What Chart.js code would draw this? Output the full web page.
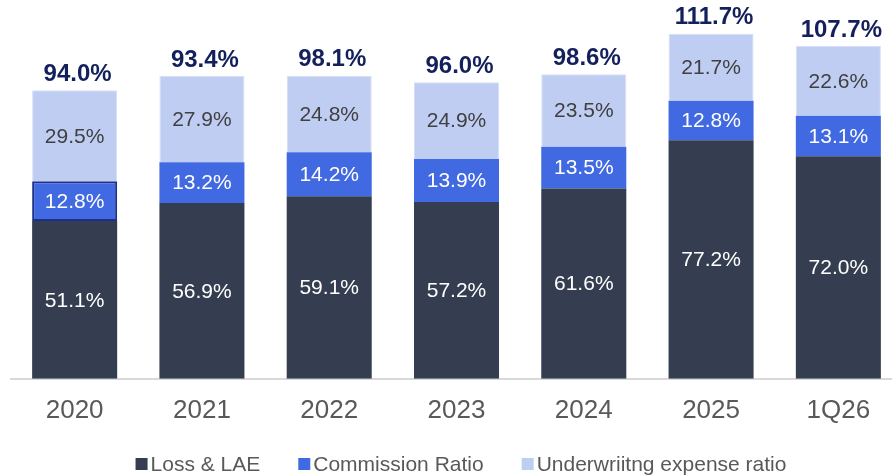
<!DOCTYPE html>
<html>
<head>
<meta charset="utf-8">
<script src="https://cdn.jsdelivr.net/npm/chart.js@4"></script>
<style>
  html, body { margin: 0; padding: 0; overflow: hidden; background: #ffffff; }
  #wrap { width: 902px; height: 475px; position: relative; }
</style>
</head>
<body>
<div id="wrap"><canvas id="c"></canvas></div>
<script>
const categories = ['2020', '2021', '2022', '2023', '2024', '2025', '1Q26'];
const lossLAE = [51.1, 56.9, 59.1, 57.2, 61.6, 77.2, 72.0];
const commissionRatio = [12.8, 13.2, 14.2, 13.9, 13.5, 12.8, 13.1];
const underwritingExpense = [29.5, 27.9, 24.8, 24.9, 23.5, 21.7, 22.6];
const totalLabels = ['94.0%', '93.4%', '98.1%', '96.0%', '98.6%', '111.7%', '107.7%'];
const seriesNames = ['Loss & LAE', 'Commission Ratio', 'Underwriitng expense ratio'];

const FONT = '"Liberation Sans", Arial, sans-serif';
const colors = ['#343e50', '#4169e1', '#bfcdf3'];
const labelColors = ['#ffffff', '#ffffff', '#404040'];

const segmentLabels = {
  id: 'segmentLabels',
  afterDatasetsDraw(chart) {
    const ctx = chart.ctx;
    ctx.save();
    ctx.font = '21px ' + FONT;
    ctx.textAlign = 'center';
    ctx.textBaseline = 'middle';
    chart.data.datasets.forEach((ds, i) => {
      const meta = chart.getDatasetMeta(i);
      meta.data.forEach((bar, j) => {
        const v = ds.data[j];
        ctx.fillStyle = labelColors[i];
        ctx.fillText(v.toFixed(1) + '%', bar.x, (bar.y + bar.base) / 2 + 1);
      });
    });
    const last = chart.getDatasetMeta(chart.data.datasets.length - 1);
    ctx.font = 'bold 24px ' + FONT;
    ctx.fillStyle = '#13205c';
    last.data.forEach((bar, j) => {
      ctx.fillText(totalLabels[j], bar.x + 3, bar.y - 16);
    });
    ctx.restore();
  }
};

const customLegend = {
  id: 'customLegend',
  afterDraw(chart) {
    const ctx = chart.ctx;
    ctx.save();
    ctx.font = '21px ' + FONT;
    ctx.textBaseline = 'middle';
    const box = 12, gapBoxText = 3, gapItems = 38, cy = 464, cx = 461;
    const widths = seriesNames.map(n => box + gapBoxText + ctx.measureText(n).width);
    const total = widths.reduce((a, b) => a + b, 0) + gapItems * (widths.length - 1);
    let x = cx - total / 2;
    seriesNames.forEach((n, i) => {
      ctx.fillStyle = colors[i];
      ctx.fillRect(x, cy - box / 2, box, box);
      ctx.fillStyle = '#595959';
      ctx.textAlign = 'left';
      ctx.fillText(n, x + box + gapBoxText, cy + 1);
      x += widths[i] + gapItems;
    });
    ctx.restore();
  }
};

new Chart(document.getElementById('c'), {
  type: 'bar',
  data: {
    labels: categories,
    datasets: [
      { label: seriesNames[0], data: lossLAE, backgroundColor: colors[0], borderWidth: 0 },
      { label: seriesNames[1], data: commissionRatio, backgroundColor: colors[1],
        borderColor: '#1c3088', borderWidth: [2, 0, 0, 0, 0, 0, 0], borderSkipped: false },
      { label: seriesNames[2], data: underwritingExpense, backgroundColor: colors[2],
        borderColor: '#d6def8', borderWidth: 1, borderSkipped: 'start' }
    ]
  },
  options: {
    responsive: true,
    maintainAspectRatio: false,
    animation: false,
    devicePixelRatio: 1,
    datasets: { bar: { categoryPercentage: 1.0, barPercentage: 0.668 } },
    layout: { padding: { left: 11, right: 0, top: 8, bottom: 33 } },
    plugins: {
      legend: { display: false },
      tooltip: { enabled: false }
    },
    scales: {
      x: {
        stacked: true,
        grid: { display: false, drawTicks: false },
        border: { display: true, color: '#d9d9d9', width: 2 },
        ticks: { color: '#595959', font: { family: FONT, size: 26 }, padding: 16 }
      },
      y: {
        stacked: true,
        display: false,
        min: 0,
        max: 120
      }
    }
  },
  plugins: [segmentLabels, customLegend]
});
</script>
</body>
</html>
